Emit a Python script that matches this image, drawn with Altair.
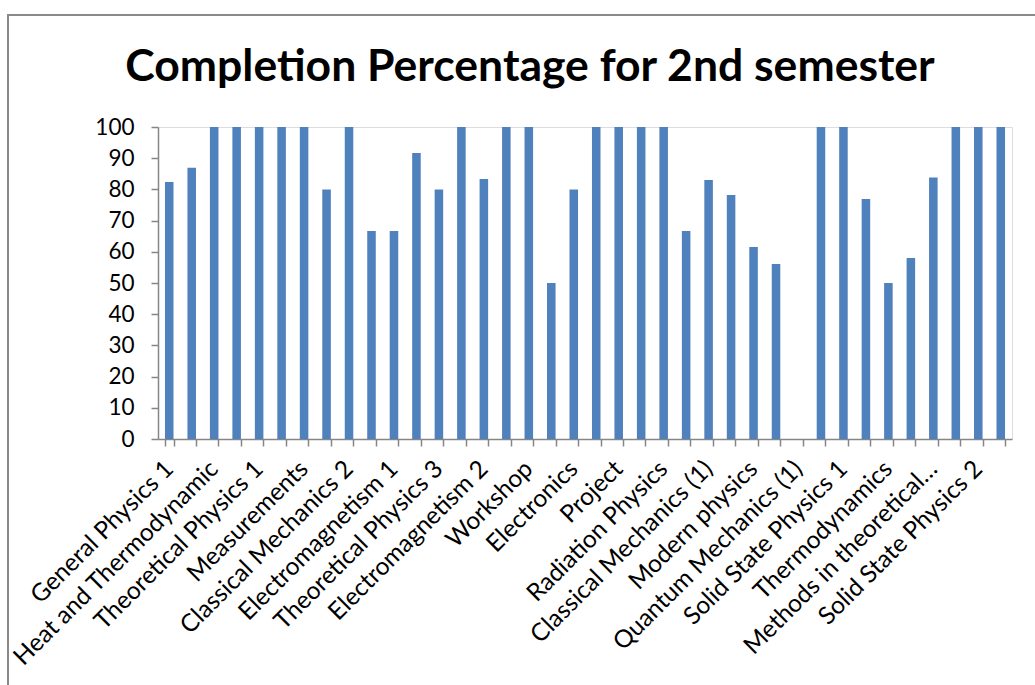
import json
import altair as alt
import pandas as pd

# Category labels (every other category is labelled on the axis, as in the original)
shown_labels = [
    "General Physics 1", "Heat and Thermodynamic", "Theoretical Physics 1",
    "Measurements", "Classical Mechanics 2", "Electromagnetism 1",
    "Theoretical Physics 3", "Electromagnetism 2", "Workshop", "Electronics",
    "Project", "Radiation Physics", "Classical Mechanics  (1)", "Modern physics",
    "Quantum Mechanics (1)", "Solid State Physics 1", "Thermodynamics",
    "Methods in theoretical…", "Solid State Physics 2",
]
hidden_labels = [f"Course {i}" for i in range(2, 39, 2)]

values = [
    82.4, 86.9, 100, 100, 100, 100, 100, 80, 100, 66.7,
    66.7, 91.7, 80, 100, 83.3, 100, 100, 50, 80, 100,
    100, 100, 100, 66.7, 83, 78.2, 61.5, 56.1, 0, 100,
    100, 76.9, 50, 58, 83.8, 100, 100, 100,
]

categories = []
for a, b in zip(shown_labels, hidden_labels):
    categories += [a, b]

df = pd.DataFrame({"course": categories, "pct": values})

FONT = "Lato"
GREY = "#868686"
label_expr = f"indexof({json.dumps(shown_labels)}, datum.label) >= 0 ? datum.label : ''"

bars = alt.Chart(df).mark_bar(color="#4F81BD").encode(
    x=alt.X(
        "course:N",
        sort=categories,
        scale=alt.Scale(paddingInner=0.62, paddingOuter=0.31),
        axis=alt.Axis(
            title=None,
            labelAngle=315,
            labelAlign="right",
            labelBaseline="middle",
            labelExpr=label_expr,
            labelFont=FONT,
            labelFontSize=24.5,
            labelColor="black",
            labelPadding=19,
            labelLimit=400,
            labelOverlap=False,
            tickBand="extent",
            tickSize=7,
            tickColor=GREY,
            domainColor=GREY,
            domainWidth=1.5,
            tickWidth=1.5,
        ),
    ),
    y=alt.Y(
        "pct:Q",
        scale=alt.Scale(domain=[0, 100], nice=False),
        axis=alt.Axis(
            title=None,
            values=list(range(0, 101, 10)),
            grid=False,
            labelFont=FONT,
            labelFontSize=22.5,
            labelColor="black",
            labelPadding=17,
            tickSize=7,
            tickColor=GREY,
            domainColor=GREY,
            domainWidth=1.5,
            tickWidth=1.5,
        ),
    ),
)

frame = alt.Chart(pd.DataFrame({"a": [0]})).mark_rect(
    fill=None, stroke="#8a8a8a", strokeWidth=2
).encode(
    x=alt.value(-150), x2=alt.value(920),
    y=alt.value(-112), y2=alt.value(600),
)

chart = alt.layer(bars, frame).properties(
    width=854,
    height=312,
    padding={"left": 158, "top": 127, "right": 23, "bottom": 246},
    autosize=alt.AutoSizeParams(type="none"),
    title=alt.TitleParams(
        "Completion Percentage for 2nd semester",
        font=FONT,
        fontSize=44.5,
        fontWeight="bold",
        color="black",
        anchor="middle",
        frame="group",
        dx=-55,
        offset=0,
        dy=111,
        baseline="alphabetic",
    ),
).configure_view(stroke=None).configure(background="white")

chart.save("out.html", embed_options={"renderer": "svg", "actions": False})
